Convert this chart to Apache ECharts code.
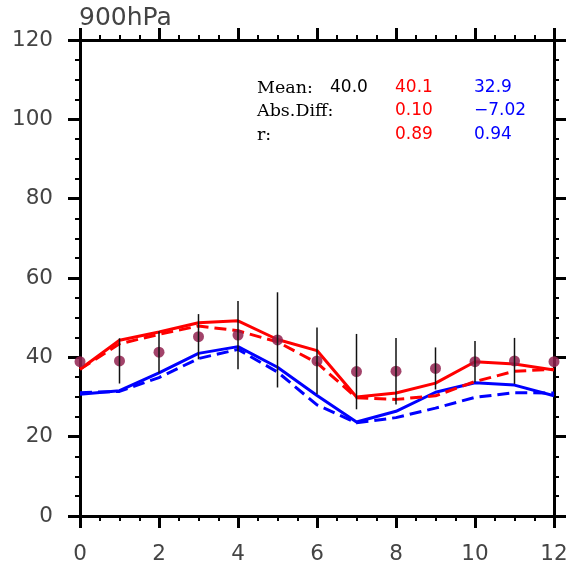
<!DOCTYPE html>
<html>
<head>
<meta charset="utf-8">
<script src="https://cdn.jsdelivr.net/npm/echarts@6/dist/echarts.min.js"></script>
<style>
  html, body { margin: 0; padding: 0; background: #ffffff; }
  #chart { width: 570px; height: 566px; }
</style>
</head>
<body>
<div id="chart"></div>
<script>
// Monthly index along the x axis
const months = [0, 1, 2, 3, 4, 5, 6, 7, 8, 9, 10, 11, 12];

// Observed mean and its spread (std dev), drawn as dots with vertical bars
const obs   = [38.9, 39.1, 41.3, 45.2, 45.6, 44.4, 39.1, 36.4, 36.5, 37.2, 38.9, 39.1, 38.9];
const obsSd = [null, 5.7, 5.3, 5.7, 8.6, 12.0, 8.4, 9.5, 8.4, 5.3, 5.2, 5.8, null];

// Model curves
const redSolid   = [37.0, 44.3, 46.4, 48.7, 49.2, 44.5, 41.7, 30.0, 31.0, 33.5, 38.9, 38.3, 36.8];
const redDashed  = [37.0, 43.4, 45.8, 47.9, 46.7, 43.9, 38.6, 29.8, 29.4, 30.3, 33.9, 36.5, 37.0];
const blueSolid  = [30.7, 31.6, 36.1, 41.0, 42.7, 37.5, 30.4, 23.7, 26.4, 31.2, 33.6, 33.0, 30.3];
const blueDashed = [31.1, 31.4, 34.9, 39.7, 42.0, 36.3, 28.0, 23.5, 24.8, 27.2, 29.9, 31.1, 31.0];

// Summary statistics table
const statLabels = ['Mean:', 'Abs.Diff:', 'r:'];
const obsMean = '40.0';
const redStats = ['40.1', '0.10', '0.89'];
const blueStats = ['32.9', '\u22127.02', '0.94'];

const titleText = '900hPa';

const RED = '#ff0000';
const BLUE = '#0000ff';
const SANS = 'DejaVu Sans';
const SERIF = 'DejaVu Serif';

const chart = echarts.init(document.getElementById('chart'), null, { renderer: 'canvas' });

const pair = arr => months.map((m, i) => [m, arr[i]]);

const errData = [];
months.forEach((m, i) => {
  if (obsSd[i] != null) errData.push([m, obs[i] - obsSd[i], obs[i] + obsSd[i]]);
});

const tickStyle = {
  axisLine: { show: true, onZero: false, lineStyle: { color: '#000', width: 3 } },
  axisTick: { show: true, inside: false, length: 12, lineStyle: { color: '#000', width: 3 } },
  minorTick: { show: true, splitNumber: 4, length: 5, lineStyle: { color: '#000', width: 2 } },
  splitLine: { show: false },
  minorSplitLine: { show: false }
};

const labelStyle = { fontFamily: SANS, fontSize: 21.5, color: '#444' };

function lineSeries(data, color, dashed) {
  return {
    type: 'line',
    data: pair(data),
    symbol: 'none',
    z: 2,
    lineStyle: { color: color, width: 3, type: dashed ? [12, 6] : 'solid' },
    silent: true
  };
}

// Statistics block as text graphics
const graphics = [];
const rowBase = [89, 112.5, 136];
statLabels.forEach((t, i) => {
  graphics.push({ type: 'text', left: 257, top: rowBase[i] - 10,
    style: { text: t, font: '17.5px "' + SERIF + '"', fill: '#000' } });
  graphics.push({ type: 'text', left: 395, top: rowBase[i] - 10,
    style: { text: redStats[i], font: '17px "' + SANS + '"', fill: RED } });
  graphics.push({ type: 'text', left: 474, top: rowBase[i] - 10,
    style: { text: blueStats[i], font: '17px "' + SANS + '"', fill: BLUE } });
});
graphics.push({ type: 'text', left: 330, top: rowBase[0] - 10,
  style: { text: obsMean, font: '17px "' + SANS + '"', fill: '#000' } });
graphics.push({ type: 'text', left: 79, top: 6,
  style: { text: titleText, font: '25px "' + SANS + '"', fill: '#444' } });

chart.setOption({
  animation: false,
  backgroundColor: '#ffffff',
  grid: { left: 80, right: 16, top: 40, bottom: 50, containLabel: false, outerBoundsMode: 'none' },
  xAxis: [
    Object.assign({ type: 'value', min: 0, max: 12, interval: 2, position: 'bottom',
      axisLabel: Object.assign({ margin: 27 }, labelStyle) }, tickStyle),
    Object.assign({ type: 'value', min: 0, max: 12, interval: 2, position: 'top',
      axisLabel: { show: false } }, tickStyle)
  ],
  yAxis: [
    Object.assign({ type: 'value', min: 0, max: 120, interval: 20, position: 'left',
      axisLabel: Object.assign({ margin: 27 }, labelStyle) }, tickStyle),
    Object.assign({ type: 'value', min: 0, max: 120, interval: 20, position: 'right',
      axisLabel: { show: false } }, tickStyle)
  ],
  graphic: graphics,
  series: [
    lineSeries(blueDashed, BLUE, true),
    lineSeries(blueSolid, BLUE, false),
    lineSeries(redDashed, RED, true),
    lineSeries(redSolid, RED, false),
    {
      type: 'scatter',
      z: 3,
      silent: true,
      data: pair(obs),
      symbol: 'circle',
      symbolSize: 11,
      itemStyle: { color: '#922250', opacity: 0.85 }
    },
    {
      type: 'custom',
      z: 4,
      silent: true,
      data: errData,
      encode: { x: 0, y: [1, 2] },
      renderItem: function (params, api) {
        const x = api.value(0);
        const p1 = api.coord([x, api.value(1)]);
        const p2 = api.coord([x, api.value(2)]);
        return {
          type: 'line',
          shape: { x1: p1[0], y1: p1[1], x2: p2[0], y2: p2[1] },
          style: { stroke: '#111', lineWidth: 1.5 }
        };
      }
    }
  ]
});
</script>
</body>
</html>
